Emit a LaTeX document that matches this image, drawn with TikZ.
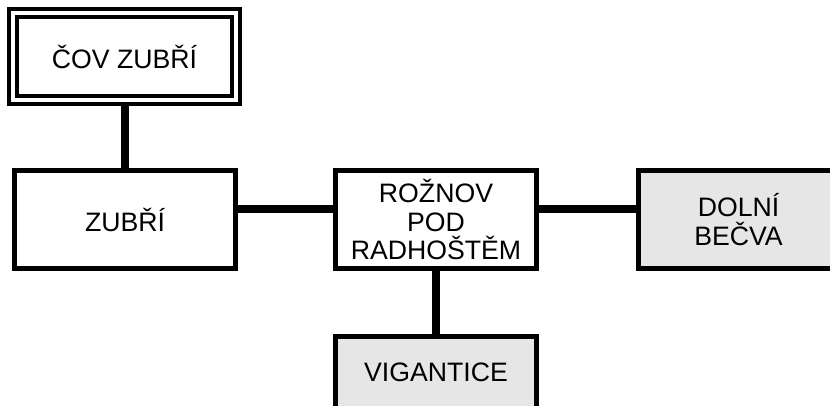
\documentclass[tikz,border=0pt]{standalone}
\usepackage{fontspec}
\setmainfont{Liberation Sans}
\usetikzlibrary{positioning}
\definecolor{villgray}{HTML}{E6E6E6}

\begin{document}
\begin{tikzpicture}[
      x=0.75pt, y=0.75pt,
      every node/.style={font=\fontsize{20}{21.4}\selectfont},
      placebox/.style={draw, line width=3.75pt, align=center, inner sep=0pt, minimum width=150.75pt, minimum height=73.5pt},
      plantbox/.style={draw, line width=3pt, double, double distance=3pt, align=center, minimum width=167.25pt, minimum height=65.25pt},
      link/.style={line width=6pt},
    ]
    \useasboundingbox (0,0) rectangle (830,405);
    \clip (0,0) rectangle (830,405);

    \node[plantbox] (cov) at (124.5, 348.5) {ČOV ZUBŘÍ};
    \node[placebox, minimum width=165.75pt] (zubri) at (125, 185.5) {ZUBŘÍ};
    \node[placebox] (roznov) at (436, 185.5) {ROŽNOV\\POD\\RADHOŠTĚM};
    \node[placebox, fill=villgray] (dolni) at (738.5, 185.5) {DOLNÍ\\BEČVA};
    \node[placebox, fill=villgray, minimum height=54pt] (vig) at (436, 32.5) {VIGANTICE};

    \draw[link] (cov.south) -- (cov.south |- zubri.north);
    \draw[link] ([yshift=7.9pt]zubri.east) -- ([yshift=7.9pt]roznov.west);
    \draw[link] ([yshift=7.9pt]roznov.east) -- ([yshift=7.9pt]dolni.west);
    \draw[link] (roznov.south) -- (vig.north);
  \end{tikzpicture}
\end{document}
